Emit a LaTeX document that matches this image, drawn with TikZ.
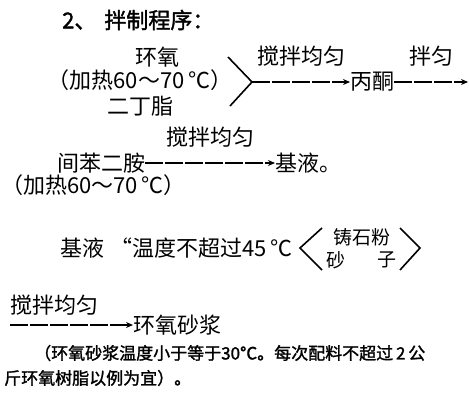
\documentclass[tikz,border=0pt]{standalone}
\usepackage{fontspec}
\usepackage{tikz}
\usetikzlibrary{arrows.meta}
\setmainfont{Noto Sans CJK SC}
\newfontfamily\cjkbold{Noto Sans CJK SC}[FakeBold=1.5]

\tikzset{
    txt/.style={inner sep=0pt, font=\fontsize{22}{24}\selectfont},
    smalltxt/.style={inner sep=0pt, font=\fontsize{19}{20}\selectfont},
    head/.style={inner sep=0pt, font=\cjkbold\fontsize{22}{24}\selectfont},
    note/.style={inner sep=0pt, font=\cjkbold\fontsize{17}{20}\selectfont},
    flow/.style={-{Stealth[length=7pt,width=6pt]}, line width=1.3pt, dash pattern=on 18pt off 2pt},
    brace/.style={line width=1.6pt}
}

\begin{document}
\begin{tikzpicture}[x=1pt,y=-1pt]
    \useasboundingbox (0,0) rectangle (470,414);
    % heading
    \node[head, anchor=west] (title) at (62,20) {2、\hspace{8pt}拌制程序：};
    % epoxy + dibutyl -> acetone
    \node[txt] (epoxy) at (157,57) {环氧};
    \node[txt] (heatA) at (140,80) {（加热60～70\,℃）};
    \node[txt] (dbp) at (140,106) {二丁脂};
    \coordinate (joinTop) at (228,57);
    \coordinate (joinA) at (252,82);
    \coordinate (joinBot) at (230,106);
    \draw[brace] (joinTop) -- (joinA) -- (joinBot);
    \node[txt, anchor=west] (acetone) at (350,82) {丙酮};
    \coordinate (endA) at (468,82);
    \draw[flow] (joinA) -- (acetone.west) node[txt, midway, above=15pt] (stirA) {搅拌均匀};
    \draw[flow] (acetone.east) -- (endA) node[txt, midway, above=15pt] (mixA) {拌匀};
    % m-phenylenediamine -> base liquid
    \node[txt, anchor=west] (mpd) at (57,163) {间苯二胺};
    \node[txt, anchor=west] (heatB) at (1,185) {（加热60～70\,℃）};
    \node[txt, anchor=west] (base) at (275,163) {基液。};
    \draw[flow] (mpd.east) -- (base.west) node[txt, midway, above=15pt] (stirB) {搅拌均匀};
    % base liquid + cast stone powder / sand
    \node[txt, anchor=west] (baseC) at (60,248) {基液\hspace{6pt}“温度不超过45\,℃};
    \coordinate (lbTop) at (322,228);
    \coordinate (lbTip) at (300,248);
    \coordinate (lbBot) at (322,270);
    \draw[brace] (lbTop) -- (lbTip) -- (lbBot);
    \node[smalltxt] (stone) at (362,237) {铸石粉};
    \node[smalltxt] (sand) at (336,260) {砂};
    \node[smalltxt] (zi) at (387,260) {子};
    \coordinate (rbTop) at (400,228);
    \coordinate (rbTip) at (420,248);
    \coordinate (rbBot) at (400,270);
    \draw[brace] (rbTop) -- (rbTip) -- (rbBot);
    % -> epoxy mortar
    \node[txt, anchor=west] (stirC) at (10,305) {搅拌均匀};
    \coordinate (startC) at (10,325);
    \node[txt, anchor=west] (mortar) at (133,325) {环氧砂浆};
    \draw[flow] (startC) -- (mortar.west);
    % remark
    \node[note, anchor=west] (note1) at (34,353) {（环氧砂浆温度小于等于30°C。每次配料不超过\,2\,公};
    \node[note, anchor=west] (note2) at (4,378) {斤环氧树脂以例为宜）。};
\end{tikzpicture}
\end{document}
